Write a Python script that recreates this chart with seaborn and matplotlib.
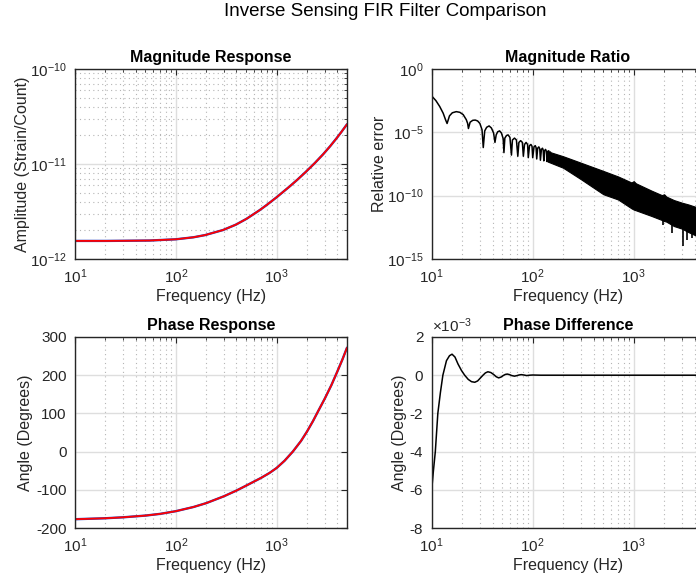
import numpy as np
import pandas as pd
import matplotlib
matplotlib.use("Agg")
import matplotlib.pyplot as plt
import matplotlib.ticker as mticker
import seaborn as sns

# ---------------- data ----------------
mag_freq = [10, 20, 30, 55, 100, 150, 195, 295, 395, 504, 683, 800, 1000, 1355, 1600, 1950,
            2400, 2900, 3400, 3930, 4400, 5000]
mag_vals = [1.55e-12, 1.55e-12, 1.555e-12, 1.565e-12, 1.612e-12, 1.693e-12, 1.785e-12,
            2.02e-12, 2.30e-12, 2.65e-12, 3.28e-12, 3.71e-12, 4.46e-12, 5.83e-12, 6.80e-12,
            8.26e-12, 1.025e-11, 1.267e-11, 1.538e-11, 1.86e-11, 2.175e-11, 2.62e-11]

phase_freq = [10, 20, 30, 50, 70, 100, 150, 200, 300, 400, 500, 700, 850, 1000, 1200, 1450,
              1750, 2000, 2300, 2600, 3000, 3500, 4000, 4500, 5000]
phase_vals = [-177, -174.5, -172, -167.5, -163, -156, -145, -135, -117, -102, -89, -69, -56,
              -43, -24, 0, 28, 52, 80, 107, 138, 174, 209, 241, 272]

ratio_freq = [10, 11, 12, 13, 13.7, 14.2, 15, 16, 17.5, 19, 20.5, 22, 22.7, 23.1, 24, 25.5, 27,
              28.5, 30, 31.5, 32.4, 33.5, 35, 37, 39, 41, 42.3, 43.5, 45, 47, 49, 51, 51.9, 53,
              55, 57, 59.5, 61.6, 63, 66, 69, 71.2, 73, 76, 79, 80.8, 83, 86, 89, 90.4, 93, 96,
              98.5, 100, 103, 106, 108, 109.6, 112, 115, 117.5, 119.2, 122, 125, 127, 128.8, 131,
              134, 136.5, 138.4, 141, 144, 146, 148, 150]
ratio_vals = [7.4e-3, 3.2e-3, 1.1e-3, 3.2e-4, 1.0e-4, 5.0e-5, 2.0e-4, 3.5e-4, 4.3e-4, 3.8e-4,
              2.5e-4, 1.0e-4, 5.0e-5, 2.0e-5, 6.3e-5, 8.9e-5, 9.3e-5, 7.9e-5, 5.0e-5, 1.6e-5,
              6.3e-7, 1.3e-5, 2.5e-5, 3.2e-5, 2.2e-5, 8.9e-6, 1.6e-6, 6.3e-6, 1.1e-5, 1.3e-5,
              8.9e-6, 3.2e-6, 2.5e-7, 3.5e-6, 5.6e-6, 6.3e-6, 4.0e-6, 1.6e-7, 2.5e-6, 3.5e-6,
              2.5e-6, 1.3e-7, 1.6e-6, 2.2e-6, 1.6e-6, 1.3e-7, 1.1e-6, 1.6e-6, 1.1e-6, 1.0e-7,
              8.9e-7, 1.1e-6, 7.9e-7, 1.0e-7, 7.1e-7, 8.9e-7, 6.3e-7, 7.9e-8, 5.6e-7, 7.1e-7,
              5.0e-7, 6.3e-8, 4.5e-7, 5.6e-7, 4.0e-7, 5.6e-8, 3.5e-7, 4.5e-7, 3.2e-7, 5.0e-8,
              3.2e-7, 3.5e-7, 2.5e-7, 4.5e-8, 2.8e-7]

band_freq = [140, 200, 300, 500, 700, 950, 1000, 1050, 1500, 1900, 2000, 2100, 2500, 3000,
             3500, 4000, 5000]
band_upper = [3.2e-7, 1.3e-7, 4.0e-8, 9.0e-9, 3.3e-9, 1.1e-9, 1.4e-9, 9.5e-10, 2.5e-10,
              1.1e-10, 1.3e-10, 8.5e-11, 4.5e-11, 2.8e-11, 2.0e-11, 1.4e-11, 8.0e-12]
band_lower = [5.0e-8, 1.6e-8, 2.0e-9, 1.3e-10, 5.0e-11, 1.0e-11, 8.0e-12, 7.0e-12, 2.5e-12,
              1.2e-12, 1.0e-12, 9.0e-13, 4.0e-13, 2.5e-13, 1.3e-13, 8.0e-14, 5.0e-14]

spike_freq = [1950, 2370, 3090, 3350, 3750, 4300]
spike_top = [1.5e-12, 6.0e-13, 2.5e-13, 1.6e-13, 1.2e-13, 7.0e-14]
spike_low = [5.0e-13, 1.1e-13, 1.0e-14, 3.2e-14, 4.5e-14, 3.0e-14]

pdiff_freq = [10, 10.4, 10.86, 11.5, 12.2, 12.9, 14.0, 15.0, 15.9, 17, 18.2, 19.7, 21.2, 23,
              24.8, 26.7, 28.5, 30.3, 32.2, 34, 36, 38.5, 41, 43.5, 46, 48.5, 51, 53.5, 56, 59,
              62, 66, 70, 73, 77, 82, 87, 93, 100, 120, 200, 1000, 5000]
pdiff_vals = [-6.0e-3, -5.0e-3, -4.0e-3, -2.0e-3, -0.9e-3, 0.0, 0.76e-3, 1.02e-3, 1.1e-3,
              0.95e-3, 0.59e-3, 0.25e-3, 0.0, -0.22e-3, -0.34e-3, -0.37e-3, -0.3e-3, -0.15e-3,
              0.0, 0.12e-3, 0.18e-3, 0.14e-3, 0.04e-3, -0.08e-3, -0.14e-3, -0.1e-3, -0.02e-3,
              0.04e-3, 0.06e-3, 0.03e-3, -0.02e-3, -0.05e-3, -0.02e-3, 0.01e-3, 0.03e-3,
              0.01e-3, -0.02e-3, 0.0, 0.01e-3, 0.0, 0.0, 0.0, 0.0]

x_ticks = [10, 100, 1000]
mag_yticks = [1e-12, 1e-11, 1e-10]
ratio_yticks = [1e-15, 1e-10, 1e-5, 1]

# ---------------- style ----------------
sns.set_theme(style="white")
plt.rcParams["font.family"] = ["Liberation Sans", "DejaVu Sans"]
plt.rcParams["axes.unicode_minus"] = False
plt.rcParams["mathtext.fontset"] = "custom"
plt.rcParams["mathtext.rm"] = "Liberation Sans"
plt.rcParams["mathtext.it"] = "Liberation Sans:italic"
TXT = "#262626"
TICK_FS = 11
LAB_FS = 11.5

fig = plt.figure(figsize=(6.96, 5.78), dpi=100)
fig.patch.set_facecolor("white")

W, H = 696, 578
def place(x0, y0, x1, y1):
    return fig.add_axes([x0 / W, 1 - y1 / H, (x1 - x0) / W, (y1 - y0) / H])

ax_mag = place(75, 69, 347, 259)
ax_rat = place(431.7, 69, 704.3, 259)
ax_ph = place(75, 337, 347, 528)
ax_pd = place(431.7, 337, 704.3, 528)

def style(ax, ylog=False, yminor_grid=False):
    ax.set_xscale("log")
    if ylog:
        ax.set_yscale("log")
    ax.set_xlim(10, 5000)
    ax.xaxis.set_major_locator(mticker.FixedLocator(x_ticks))
    ax.xaxis.set_major_formatter(mticker.LogFormatterSciNotation())
    ax.xaxis.set_minor_locator(mticker.LogLocator(base=10, subs=np.arange(2, 10), numticks=20))
    ax.xaxis.set_minor_formatter(mticker.NullFormatter())
    ax.grid(which="major", color="#dedede", linewidth=1.0, linestyle="-")
    ax.grid(which="minor", axis="x", color="#b5b5b5", linewidth=0.8, linestyle=(0, (1, 3)))
    if yminor_grid:
        ax.grid(which="minor", axis="y", color="#b5b5b5", linewidth=0.8, linestyle=(0, (1, 3)))
    ax.set_axisbelow(True)
    for s in ax.spines.values():
        s.set_color(TXT)
        s.set_linewidth(1.0)
        s.set_visible(True)
    ax.tick_params(which="both", direction="in", top=True, right=True, colors=TXT,
                   labelsize=TICK_FS, labelcolor=TXT)
    ax.tick_params(axis="x", which="major", pad=6)
    ax.tick_params(axis="y", which="major", pad=6)
    ax.tick_params(which="major", length=4, width=0.8)
    ax.tick_params(which="minor", length=2, width=0.6)
    ax.set_xlabel("Frequency (Hz)", fontsize=LAB_FS, color=TXT, labelpad=2)

# Magnitude response
style(ax_mag, ylog=True, yminor_grid=True)
sns.lineplot(x=mag_freq, y=mag_vals, ax=ax_mag, color="#1f3fbf", linewidth=1.7, sort=False, estimator=None)
sns.lineplot(x=mag_freq, y=mag_vals, ax=ax_mag, color="red", linewidth=1.3, sort=False, estimator=None)
ax_mag.set_ylim(1e-12, 1e-10)
ax_mag.yaxis.set_major_locator(mticker.FixedLocator(mag_yticks))
ax_mag.yaxis.set_major_formatter(mticker.LogFormatterSciNotation())
ax_mag.yaxis.set_minor_locator(mticker.LogLocator(base=10, subs=np.arange(2, 10), numticks=20))
ax_mag.yaxis.set_minor_formatter(mticker.NullFormatter())
ax_mag.set_ylabel("Amplitude (Strain/Count)", fontsize=LAB_FS, color=TXT, labelpad=0)
ax_mag.set_title("Magnitude Response", fontsize=11.5, fontweight="bold", color="black", pad=5)

# Magnitude ratio
style(ax_rat, ylog=True)
ax_rat.fill_between(band_freq, band_lower, band_upper, color="black", linewidth=0.8, edgecolor="black")
ax_rat.vlines(spike_freq, spike_low, spike_top, color="black", linewidth=1.2)
sns.lineplot(x=ratio_freq, y=ratio_vals, ax=ax_rat, color="black", linewidth=1.1, sort=False, estimator=None)
ax_rat.set_ylim(1e-15, 1)
ax_rat.yaxis.set_major_locator(mticker.FixedLocator(ratio_yticks))
ax_rat.yaxis.set_major_formatter(mticker.LogFormatterSciNotation())
ax_rat.yaxis.set_minor_locator(mticker.NullLocator())
ax_rat.set_ylabel("Relative error", fontsize=LAB_FS, color=TXT, labelpad=0)
ax_rat.set_title("Magnitude Ratio", fontsize=11.5, fontweight="bold", color="black", pad=5)

# Phase response
style(ax_ph)
sns.lineplot(x=phase_freq, y=phase_vals, ax=ax_ph, color="#1f3fbf", linewidth=1.7, sort=False, estimator=None)
sns.lineplot(x=phase_freq, y=phase_vals, ax=ax_ph, color="red", linewidth=1.3, sort=False, estimator=None)
ax_ph.set_ylim(-200, 300)
ax_ph.yaxis.set_major_locator(mticker.MultipleLocator(100))
ax_ph.set_ylabel("Angle (Degrees)", fontsize=LAB_FS, color=TXT, labelpad=2)
ax_ph.set_title("Phase Response", fontsize=11.5, fontweight="bold", color="black", pad=5)

# Phase difference
style(ax_pd)
sns.lineplot(x=pdiff_freq, y=pdiff_vals, ax=ax_pd, color="black", linewidth=1.1, sort=False, estimator=None)
ax_pd.set_ylim(-8e-3, 2e-3)
ax_pd.yaxis.set_major_locator(mticker.MultipleLocator(2e-3))
ax_pd.yaxis.set_major_formatter(mticker.FuncFormatter(lambda v, p: "%d" % round(v * 1e3)))
ax_pd.set_ylabel("Angle (Degrees)", fontsize=LAB_FS, color=TXT, labelpad=2)
ax_pd.set_title("Phase Difference", fontsize=11.5, fontweight="bold", color="black", pad=5)
ax_pd.text(0.0, 1.01, r"$\times10^{-3}$", transform=ax_pd.transAxes, fontsize=TICK_FS,
           color=TXT, ha="left", va="bottom")

fig.text(385 / W, 1 - 11 / H, "Inverse Sensing FIR Filter Comparison", fontsize=13.5,
         color="black", ha="center", va="center")

fig.savefig("out.png", dpi=100, facecolor="white")
